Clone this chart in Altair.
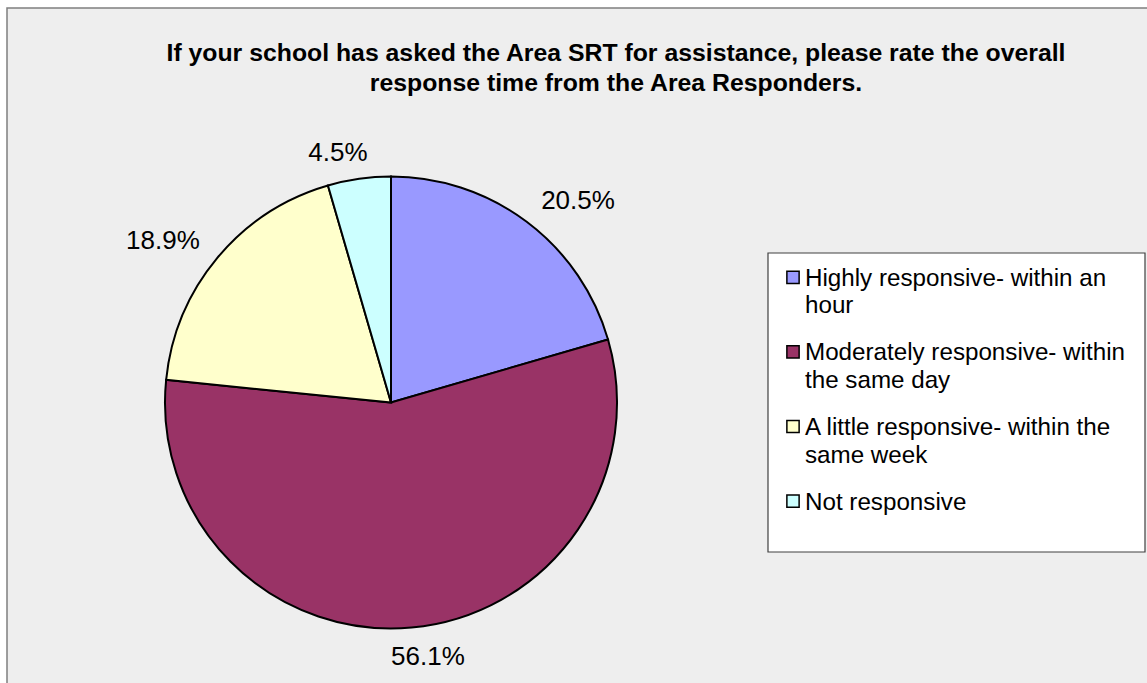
import altair as alt
import pandas as pd

# Survey answers, in the order they run clockwise from 12 o'clock
categories = [
    "Highly responsive- within an hour",
    "Moderately responsive- within the same day",
    "A little responsive-  within the same week",
    "Not responsive",
]
legend_labels = [
    "Highly responsive- within an\nhour",
    "Moderately responsive- within\nthe same day",
    "A little responsive-  within the\nsame week",
    "Not responsive",
]
percent = [20.5, 56.1, 18.9, 4.5]
colors = ["#9999FF", "#993366", "#FFFFCC", "#CCFFFF"]
title_lines = [
    "If your school has asked the Area SRT for assistance, please rate the overall",
    "response time from the Area Responders.",
]

W, H = 1147, 683
CX, CY, R = 391, 402.5, 226
FONT = "Liberation Sans"

df = pd.DataFrame({
    "category": categories,
    "legend": legend_labels,
    "value": percent,
    "idx": list(range(len(categories))),
})
titles = pd.DataFrame({"line": title_lines, "i": list(range(len(title_lines)))})
one = pd.DataFrame({"k": [0]})

color_scale = alt.Scale(domain=categories, range=colors)

# grey chart panel with its frame
panel = alt.Chart(one).mark_rect(fill="#EEEEEE", stroke="#7F7F7F", strokeWidth=1.5).encode(
    x=alt.value(7), x2=alt.value(W + 20), y=alt.value(8), y2=alt.value(H + 20)
)

title = alt.Chart(titles).transform_calculate(
    ty="61 + datum.i * 30"
).mark_text(font=FONT, fontSize=24.8, fontWeight="bold", align="center",
            baseline="alphabetic", color="black").encode(
    x=alt.value(616), y=alt.Y("ty:Q", scale=None), text="line:N"
)

pie = alt.Chart(df).mark_arc(outerRadius=R, stroke="black", strokeWidth=2).encode(
    theta=alt.Theta("value:Q", stack=True),
    color=alt.Color("category:N", scale=color_scale, legend=None),
    order=alt.Order("idx:Q"),
    x=alt.value(CX),
    y=alt.value(CY),
)

# percentage labels: each text box sits just clear of the rim,
# in the direction of its slice's middle angle
labels = alt.Chart(df).transform_joinaggregate(
    total="sum(value)"
).transform_window(
    cum="sum(value)", sort=[alt.SortField("idx")], frame=[None, 0]
).transform_calculate(
    ang="2*PI*(datum.cum - datum.value/2)/datum.total",
    txt="format(datum.value, '.1f') + '%'",
).transform_calculate(
    hw="length(datum.txt) * 7.3 + 4",
).transform_calculate(
    lx=f"{CX} + {R + 18}*sin(datum.ang) + datum.hw*clamp(4*sin(datum.ang), -1, 1)",
    ly=f"{CY} - {R + 18}*cos(datum.ang) - 10*cos(datum.ang) + 9.5",
).mark_text(font=FONT, fontSize=26, align="center", baseline="alphabetic", color="black").encode(
    x=alt.X("lx:Q", scale=None), y=alt.Y("ly:Q", scale=None), text="txt:N"
)

# legend box
legend_box = alt.Chart(one).mark_rect(fill="white", stroke="#404040", strokeWidth=1.2).encode(
    x=alt.value(768), x2=alt.value(1145), y=alt.value(253), y2=alt.value(552)
)

legend_swatches = alt.Chart(df).transform_calculate(
    sy="277.3 + datum.idx * 74.6"
).mark_square(size=150, filled=True, opacity=1, stroke="black", strokeWidth=1.5).encode(
    x=alt.value(793),
    y=alt.Y("sy:Q", scale=None),
    color=alt.Color("category:N", scale=color_scale, legend=None),
)

legend_text = alt.Chart(df).transform_calculate(
    ty="266.7 + datum.idx * 74.6"
).mark_text(font=FONT, fontSize=24.2, align="left", baseline="top", lineBreak="\n",
            lineHeight=27.7, color="black").encode(
    x=alt.value(805), y=alt.Y("ty:Q", scale=None), text="legend:N"
)

chart = alt.layer(
    panel, title, pie, labels, legend_box, legend_swatches, legend_text
).properties(
    width=W, height=H, padding=0, autosize=alt.AutoSizeParams(type="none"),
    background="white",
).configure_view(stroke=None)

chart.save("out.html", embed_options={"renderer": "svg", "actions": False})
